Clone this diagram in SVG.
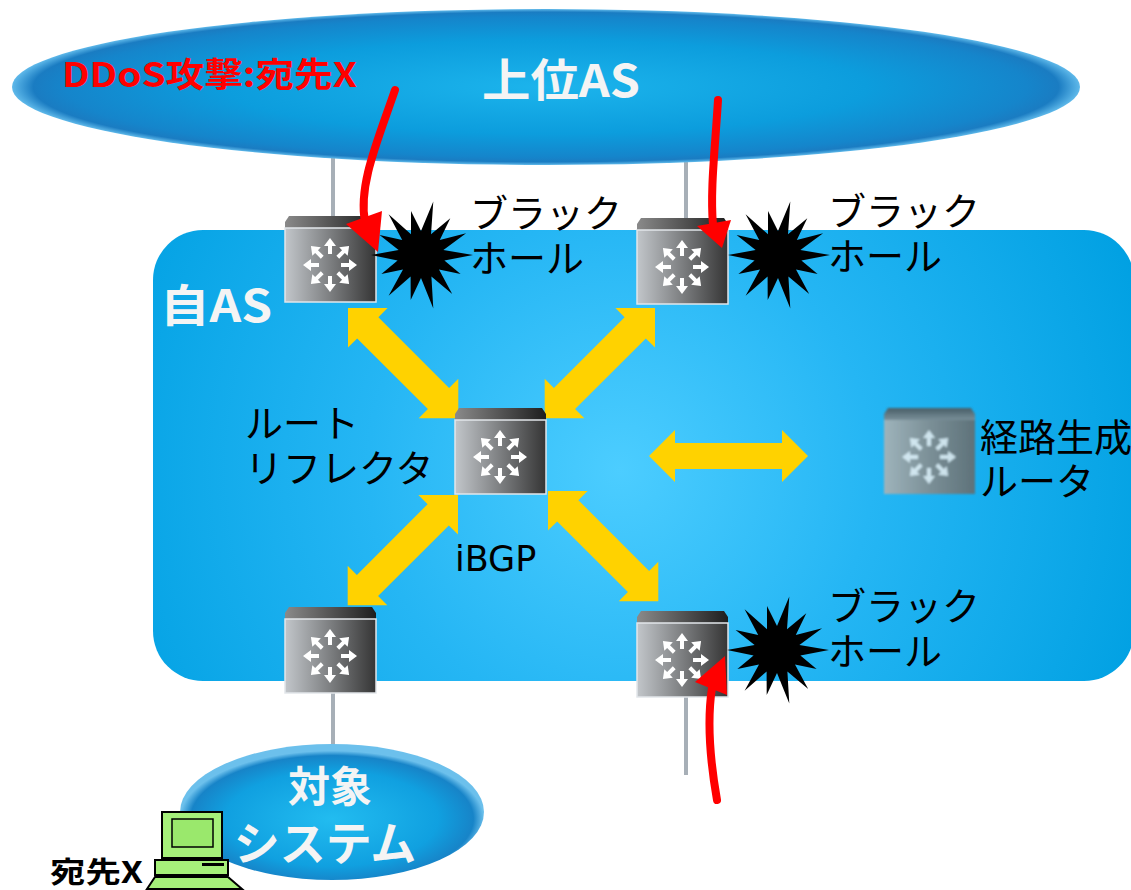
<svg xmlns="http://www.w3.org/2000/svg" width="1131" height="890" viewBox="0 0 1131 890">
  <defs>
    <style>
      .jp { font-family: "Noto Sans CJK JP", "Noto Sans", sans-serif; }
      .lbl { font-size: 38px; fill: #000; }
      .wh { fill: #f4f4f4; font-weight: bold; }
      .wire { stroke: #a7afb7; stroke-width: 4; fill: none; }
      .ddos { stroke: #ff0000; stroke-width: 8; fill: none; stroke-linecap: round; }
      .ddos-head { fill: #ff0000; }
      .ibgp { fill: #ffd200; }
    </style>
    <radialGradient id="asFill" cx="620" cy="470" r="560" gradientUnits="userSpaceOnUse">
      <stop offset="0" stop-color="#4ccdff"/>
      <stop offset="0.45" stop-color="#25b6f4"/>
      <stop offset="1" stop-color="#00a0e2"/>
    </radialGradient>
    <radialGradient id="upFill" cx="0.5" cy="0.5" r="0.5">
      <stop offset="0" stop-color="#1cb4ec"/>
      <stop offset="0.6" stop-color="#0c9ddd"/>
      <stop offset="0.9" stop-color="#1585cb"/>
      <stop offset="0.96" stop-color="#1a7cc2"/>
      <stop offset="1" stop-color="#5fb9ea"/>
    </radialGradient>
    <radialGradient id="sysFill" cx="0.5" cy="0.55" r="0.5">
      <stop offset="0" stop-color="#22bcf0"/>
      <stop offset="0.7" stop-color="#10a0e0"/>
      <stop offset="0.93" stop-color="#1784c8"/>
      <stop offset="1" stop-color="#6cc0ec"/>
    </radialGradient>
    <linearGradient id="body" x1="0" y1="0" x2="1" y2="0">
      <stop offset="0" stop-color="#c2c6ca"/>
      <stop offset="0.5" stop-color="#7c7e80"/>
      <stop offset="1" stop-color="#353535"/>
    </linearGradient>
    <linearGradient id="lid" x1="0" y1="0" x2="1" y2="0">
      <stop offset="0" stop-color="#8a8a8a"/>
      <stop offset="1" stop-color="#1e1e1e"/>
    </linearGradient>
    <linearGradient id="bodyFaded" x1="0" y1="0" x2="1" y2="0">
      <stop offset="0" stop-color="#b4b4b2"/>
      <stop offset="0.5" stop-color="#8c8a88"/>
      <stop offset="1" stop-color="#6a6866"/>
    </linearGradient>
    <linearGradient id="lidFaded" x1="0" y1="0" x2="0" y2="1">
      <stop offset="0" stop-color="#505050"/>
      <stop offset="1" stop-color="#8a8a8a"/>
    </linearGradient>
    <filter id="soft" x="-10%" y="-10%" width="120%" height="120%">
      <feGaussianBlur stdDeviation="1"/>
    </filter>

    <!-- one outward arrow of the router glyph, pointing up -->
    <path id="ray" d="M-2,-11 L2,-11 L2,-19 L6,-19 L0,-27 L-6,-19 L-2,-19 Z" fill="#ffffff"/>
    <g id="rays">
      <use href="#ray"/>
      <use href="#ray" transform="rotate(45)"/>
      <use href="#ray" transform="rotate(90)"/>
      <use href="#ray" transform="rotate(135)"/>
      <use href="#ray" transform="rotate(180)"/>
      <use href="#ray" transform="rotate(225)"/>
      <use href="#ray" transform="rotate(270)"/>
      <use href="#ray" transform="rotate(315)"/>
    </g>
    <g id="router">
      <path d="M4,-12 L87,-12 L91,-6 L91,0 L0,0 L0,-6 Z" fill="url(#lid)"/>
      <rect x="0" y="0" width="91" height="74" fill="url(#body)" stroke="#e2e6ea" stroke-width="1.5"/>
      <use href="#rays" transform="translate(45,37)"/>
    </g>
    <polygon id="burst" fill="#000" points="52,0 23.4,5.4 39.6,19.1 18,14.4 31.2,39.1 10.4,21.6 12.3,53.6 0,23 -10.3,44.9 -10.4,21.6 -32.4,40.7 -18,14.4 -39.6,19.1 -23.4,5.4 -50,0 -22.4,-5.1 -41.4,-20 -18.8,-15 -32.4,-40.7 -10,-20.7 -10,-43.9 0,-24 12.3,-53.6 10,-20.7 29.3,-36.8 18.8,-15 45.1,-21.7 22.4,-5.1"/>
    <!-- double-headed arrow along the x axis -->
    <path id="dbl" d="M0,0 L28,-28 L28,-15 L128,-15 L128,-28 L156,0 L128,28 L128,15 L28,15 L28,28 Z"/>
  </defs>

  <rect width="1131" height="890" fill="#ffffff"/>

  <!-- own AS area -->
  <g id="own-as">
    <rect x="153" y="230" width="981" height="451" rx="50" fill="url(#asFill)"/>
    <text class="jp wh" x="160" y="322" font-size="44" textLength="112" lengthAdjust="spacingAndGlyphs">自AS</text>
  </g>

  <!-- wires between the areas and the routers -->
  <g id="wires">
    <line class="wire" x1="333" y1="150" x2="333" y2="217"/>
    <line class="wire" x1="686" y1="150" x2="686" y2="219"/>
    <line class="wire" x1="333" y1="692" x2="333" y2="770"/>
    <line class="wire" x1="686" y1="697" x2="686" y2="775"/>
  </g>

  <!-- upstream AS -->
  <g id="upstream-as">
    <ellipse cx="546" cy="87" rx="534" ry="78" fill="url(#upFill)"/>
    <text class="jp wh" x="482" y="97" font-size="45" textLength="158" lengthAdjust="spacingAndGlyphs">上位AS</text>
    <text class="jp" x="62" y="87" font-size="34" font-weight="bold" fill="#ff0000" textLength="295" lengthAdjust="spacingAndGlyphs">DDoS攻撃:宛先X</text>
  </g>

  <!-- target system -->
  <g id="target-system">
    <ellipse cx="332" cy="812" rx="152" ry="68" fill="url(#sysFill)"/>
    <text class="jp wh" x="330" y="802" font-size="42" text-anchor="middle">対象</text>
    <text class="jp wh" x="325" y="860" font-size="46" text-anchor="middle">システム</text>
  </g>

  <!-- iBGP sessions -->
  <g id="connectors" class="ibgp">
    <use href="#dbl" transform="translate(348,308) rotate(45)"/>
    <use href="#dbl" transform="translate(655,308) rotate(135)"/>
    <use href="#dbl" transform="translate(458,495) rotate(135)"/>
    <use href="#dbl" transform="translate(548,491) rotate(45)"/>
    <path d="M649,456 L675,430 L675,443 L782,443 L782,430 L808,456 L782,482 L782,469 L675,469 L675,482 Z"/>
  </g>

  <!-- routers -->
  <g id="edge-router-1"><use href="#router" x="285" y="228"/></g>
  <g id="edge-router-2"><use href="#router" x="637" y="230"/></g>
  <g id="route-reflector">
    <use href="#router" x="455" y="420"/>
    <text class="jp lbl" x="245" y="437" font-size="36">ルート</text>
    <text class="jp lbl" x="245" y="482" font-size="36">リフレクタ</text>
    <text x="455" y="571" font-family="DejaVu Sans, sans-serif" font-size="35" fill="#000">iBGP</text>
  </g>
  <g id="edge-router-3"><use href="#router" x="285" y="619"/></g>
  <g id="edge-router-4"><use href="#router" x="637" y="623"/></g>
  <g id="route-generator">
    <g filter="url(#soft)" opacity="0.85">
      <path d="M888,408 L971,408 L975,414 L975,420 L884,420 L884,414 Z" fill="url(#lidFaded)"/>
      <rect x="884" y="420" width="91" height="74" fill="url(#bodyFaded)"/>
      <use href="#rays" transform="translate(929,457)" opacity="0.85"/>
    </g>
    <text class="jp lbl" x="980" y="451" font-size="37">経路生成</text>
    <text class="jp lbl" x="980" y="495" font-size="37">ルータ</text>
  </g>

  <!-- black holes -->
  <g id="blackhole-1">
    <use href="#burst" transform="translate(421,255)"/>
    <text class="jp lbl" x="470" y="227">ブラック</text>
    <text class="jp lbl" x="470" y="272">ホール</text>
  </g>
  <g id="blackhole-2">
    <use href="#burst" transform="translate(778,255)"/>
    <text class="jp lbl" x="828" y="225">ブラック</text>
    <text class="jp lbl" x="828" y="270">ホール</text>
  </g>
  <g id="blackhole-3">
    <use href="#burst" transform="translate(777,650)"/>
    <text class="jp lbl" x="828" y="620">ブラック</text>
    <text class="jp lbl" x="828" y="665">ホール</text>
  </g>

  <!-- attack traffic -->
  <g id="attack-flows">
    <path class="ddos" d="M395,90 C378,140 358,185 365,222"/>
    <polygon class="ddos-head" points="346,224 382,211 378,252"/>
    <path class="ddos" d="M718,100 C715,150 710,190 713,225"/>
    <polygon class="ddos-head" points="697,226 731,220 722,248"/>
    <path class="ddos" d="M717,800 C710,760 707,720 712,688"/>
    <polygon class="ddos-head" points="695,682 727,695 725,656"/>
  </g>

  <!-- destination host -->
  <g id="host-x">
    <rect x="162" y="812" width="60" height="46" fill="#a6f07a" stroke="#000" stroke-width="2"/>
    <rect x="172" y="819" width="41" height="28" fill="#9ae86c" stroke="#000" stroke-width="1.5"/>
    <rect x="176" y="858" width="32" height="3" fill="#000"/>
    <rect x="155" y="860" width="73" height="15" fill="#a6f07a" stroke="#000" stroke-width="2"/>
    <rect x="202" y="863" width="22" height="3" fill="#000"/>
    <polygon points="155,877 228,877 242,889 147,889" fill="#a6f07a" stroke="#000" stroke-width="2"/>
    <text class="jp" x="50" y="883" font-size="29" font-weight="bold" fill="#000" textLength="93" lengthAdjust="spacingAndGlyphs">宛先X</text>
  </g>
</svg>
